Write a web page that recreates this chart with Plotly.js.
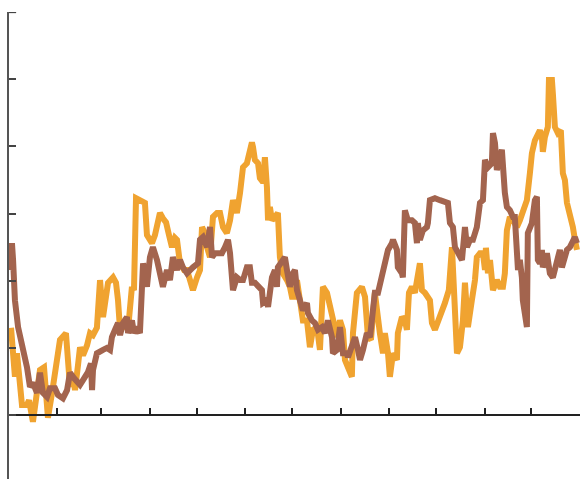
<!DOCTYPE html>
<html>
<head>
<meta charset="utf-8">
<script src="https://cdn.plot.ly/plotly-3.0.1.min.js"></script>
<style>html,body{margin:0;padding:0;background:#fff;}#chart{width:581px;height:479px;}</style>
</head>
<body>
<div id="chart"></div>
<script>
// Day of year (0 = Jan 1) and values
const orangeDays = [1.3,2.6,3.8,5.1,6.4,8.3,11.5,12.8,15.3,17.9,19.8,22.4,23.7,24.9,27.5,30.0,32.6,36.4,37.7,39.0,40.9,42.2,44.1,45.4,47.3,49.9,51.8,53.7,56.2,58.2,60.1,62.0,63.3,66.5,68.4,69.7,71.0,74.1,76.1,78.6,79.9,81.2,83.7,86.9,88.2,90.1,91.4,93.3,96.5,98.4,100.4,102.3,104.2,106.1,107.4,109.3,111.9,113.8,115.7,117.6,120.2,122.1,123.4,125.3,126.6,128.5,130.4,133.0,134.9,136.8,139.3,141.3,143.2,145.7,147.7,149.6,152.1,154.0,155.3,156.0,157.2,159.2,160.4,162.4,163.6,164.9,165.6,166.8,168.1,170.0,171.9,173.2,175.1,177.7,179.6,180.9,182.8,184.1,186.0,187.9,190.5,192.4,194.3,196.9,198.8,200.7,203.3,205.2,207.1,209.7,211.6,213.5,214.8,216.7,219.2,219.9,222.4,225.6,227.6,229.5,231.4,233.9,235.2,237.1,239.1,240.3,242.3,243.5,245.5,248.0,248.6,251.2,253.1,254.4,255.7,257.6,259.5,261.4,262.7,264.0,265.9,269.1,270.4,272.3,275.5,278.7,281.2,283.2,283.8,285.1,286.4,288.3,290.2,291.5,292.8,293.4,295.9,297.9,299.1,301.1,303.0,304.3,304.9,306.2,307.5,309.4,311.9,313.8,315.8,317.0,318.3,320.2,322.2,324.7,326.6,328.5,331.1,333.0,334.3,336.2,338.1,339.4,340.7,341.3,342.6,344.5,345.2,347.1,347.7,349.0,350.9,352.8,354.1,355.4,356.7,358.6,360.5,361.8,363.1];
const orangeValues = [13.0,8.2,5.7,9.2,6.7,1.5,1.5,2.2,-1.0,3.7,6.7,7.1,3.7,-0.4,3.3,7.4,11.2,12.2,8.2,4.2,6.0,3.7,7.4,10.1,8.9,10.4,12.2,11.9,13.0,20.1,14.6,17.1,19.7,20.5,19.7,17.1,12.7,13.4,12.7,19.1,18.6,32.3,32.0,31.6,26.8,26.1,25.6,26.8,30.1,29.3,28.7,26.8,25.0,26.4,26.1,22.6,21.6,21.6,20.1,18.6,20.5,21.6,28.0,27.1,25.0,23.5,29.5,30.1,30.1,28.0,27.1,29.0,32.0,30.1,33.1,36.9,37.5,39.0,40.6,39.9,38.0,37.5,35.3,34.7,38.4,33.9,29.0,31.0,29.0,29.5,30.1,23.5,21.1,20.1,19.1,17.6,17.6,20.1,16.1,14.1,14.1,10.1,12.7,13.1,9.7,19.1,18.2,16.1,14.1,11.6,14.1,12.7,8.2,7.1,5.7,12.2,18.2,19.1,17.6,11.6,11.2,18.2,15.2,12.2,9.2,12.2,9.2,5.7,9.2,8.2,12.2,14.6,14.1,12.7,18.2,19.1,18.2,21.1,22.6,18.6,18.2,17.1,13.7,12.7,14.6,16.7,18.6,25.0,22.0,15.2,9.2,10.1,14.1,19.7,15.2,13.1,17.1,20.1,23.5,24.1,24.1,21.6,24.9,21.1,23.1,18.6,20.1,19.1,19.1,21.1,27.5,29.5,29.0,28.0,29.0,30.5,32.0,36.0,39.0,40.9,41.7,42.4,41.4,39.2,41.4,42.9,49.9,49.9,47.9,42.9,42.0,42.4,36.0,35.0,31.6,30.1,28.0,26.1,24.6];

const brownDays = [0.6,1.9,2.6,3.8,5.8,8.3,9.6,11.5,13.4,15.3,17.9,19.8,21.7,24.3,26.2,29.4,31.3,34.5,37.1,39.0,41.5,43.5,45.4,47.3,50.5,52.4,53.1,53.7,56.2,60.1,62.6,64.6,65.8,67.8,69.7,71.0,72.9,75.4,76.1,78.6,79.9,81.8,83.7,85.7,88.2,90.1,92.0,94.6,96.5,98.4,101.0,102.9,104.8,107.4,109.3,111.2,113.8,115.7,117.6,120.8,122.1,124.0,126.6,128.5,129.8,131.7,133.6,136.1,138.1,140.0,141.3,143.2,145.7,147.7,149.6,152.1,154.0,155.3,157.2,159.2,161.7,162.4,164.9,165.6,168.1,170.0,171.3,171.9,174.5,176.4,177.7,179.6,181.5,182.8,184.1,186.0,187.9,190.5,191.1,193.7,195.6,197.5,200.1,202.0,203.9,206.5,207.1,209.7,211.6,213.5,216.0,216.7,219.2,221.2,223.1,224.4,226.3,228.8,230.8,232.7,233.9,235.9,238.4,240.3,242.3,244.8,245.5,248.0,248.6,251.2,251.8,253.1,255.0,257.6,259.5,260.8,261.4,262.7,264.6,267.2,267.8,269.1,272.3,275.5,278.7,280.6,281.9,283.8,285.1,287.0,289.6,291.5,292.8,294.7,296.6,299.1,301.1,303.0,304.3,306.2,308.7,309.4,310.7,311.9,313.8,315.1,317.0,318.3,320.2,322.2,323.4,324.7,325.4,326.6,327.9,328.5,331.1,331.7,334.3,336.2,337.5,338.1,339.4,340.7,341.3,343.9,345.8,347.7,350.3,352.2,353.5,355.4,356.7,358.6,360.5,361.8,363.1];
const brownValues = [21.6,25.6,23.1,17.1,13.1,10.7,9.4,7.1,4.2,4.8,3.3,6.3,3.3,2.7,4.0,4.0,3.0,2.5,3.7,6.3,5.5,4.8,4.5,5.2,6.4,7.7,3.7,6.7,9.2,9.7,10.0,9.7,11.6,12.7,13.7,11.9,13.7,14.6,12.2,14.1,12.2,13.1,12.2,22.6,19.1,23.5,25.0,23.1,21.1,19.1,21.6,20.1,23.5,21.6,23.1,22.0,21.1,21.6,22.0,22.6,26.1,26.5,25.0,28.0,23.5,24.1,24.1,24.1,25.0,26.1,24.1,18.6,20.5,20.1,20.1,22.0,22.0,19.7,19.7,19.1,18.6,16.7,17.1,16.1,20.5,21.6,19.1,22.0,23.1,23.5,21.6,19.1,21.1,21.6,18.6,17.1,15.6,16.7,15.2,14.1,13.7,12.7,13.1,12.2,14.1,11.6,9.2,9.7,13.1,9.2,9.2,8.6,10.1,11.6,9.7,8.2,9.7,12.2,11.6,16.1,18.2,18.2,21.1,23.1,24.6,25.6,26.1,24.6,22.0,21.1,20.5,30.5,29.0,29.0,28.6,25.6,28.6,26.1,27.5,28.0,28.6,32.0,32.3,32.0,31.7,31.6,28.6,28.0,25.0,24.1,23.1,28.0,25.0,26.1,26.1,28.0,31.6,32.0,38.0,36.9,37.5,42.0,40.5,36.5,39.0,39.5,33.1,31.0,30.5,29.5,29.5,23.5,21.6,23.1,20.5,17.1,13.1,27.1,28.6,32.0,32.5,23.1,22.6,24.6,22.0,24.1,21.1,20.5,23.1,24.6,22.0,23.5,24.6,25.0,26.1,26.5,25.6];

// Month-start tick positions (day of year)
const monthTicks = [31,59,90,120,151,181,212,243,273,304,334,365];
const valueTicks = [0,10,20,30,40,50,60];

const yMin = -9.52, yMax = 60.02;
const topTick = valueTicks[valueTicks.length - 1];

const traces = [
  {x: orangeDays, y: orangeValues, type: 'scatter', mode: 'lines',
   line: {color: '#F0A330', width: 6}, hoverinfo: 'skip'},
  {x: brownDays, y: brownValues, type: 'scatter', mode: 'lines',
   line: {color: '#A3644E', width: 6}, hoverinfo: 'skip'}
];

const layout = {
  width: 581, height: 479,
  margin: {l: 9, r: 1, t: 12, b: 0, pad: 0},
  paper_bgcolor: '#ffffff', plot_bgcolor: '#ffffff',
  showlegend: false,
  xaxis: {
    range: [0, 365.05], tickmode: 'array', tickvals: monthTicks,
    showticklabels: false, ticks: 'inside', ticklen: 6, tickwidth: 2, tickcolor: '#222',
    showline: true, linecolor: '#222', linewidth: 2,
    showgrid: false, zeroline: false,
    anchor: 'free', position: (0 - yMin) / (yMax - yMin)
  },
  yaxis: {
    range: [yMin, yMax], tickmode: 'array', tickvals: valueTicks,
    showticklabels: false, ticks: 'inside', ticklen: 7, tickwidth: 2, tickcolor: '#444',
    showline: true, linecolor: '#555', linewidth: 2,
    showgrid: false, zeroline: false
  },
  shapes: [
    // top y tick (Plotly culls ticks at the very edge of the range)
    {type: 'line', xref: 'paper', yref: 'y', x0: 0, x1: 0.0125, y0: topTick, y1: topTick,
     line: {color: '#444', width: 2}}
  ]
};

Plotly.newPlot('chart', traces, layout, {staticPlot: true, displayModeBar: false});
</script>
</body>
</html>
